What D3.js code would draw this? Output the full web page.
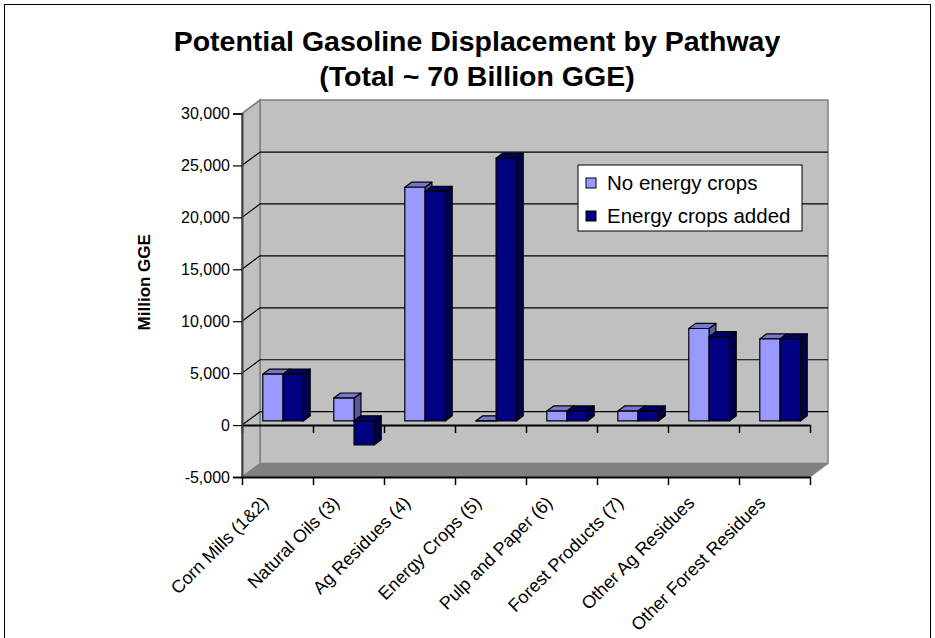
<!DOCTYPE html>
<html>
<head>
<meta charset="utf-8">
<script src="https://cdn.jsdelivr.net/npm/d3@7"></script>
<style>
  body { margin: 0; background: #fff; }
  svg { display: block; }
  text { font-family: "Liberation Sans", Arial, sans-serif; fill: #000; }
</style>
</head>
<body>
<svg id="chart" width="935" height="638"></svg>
<script>
// Pathways along the category axis
const categories = [
  "Corn Mills (1&2)", "Natural Oils (3)", "Ag Residues (4)", "Energy Crops (5)",
  "Pulp and Paper (6)", "Forest Products (7)", "Other Ag Residues", "Other Forest Residues"
];
const seriesNames = ["No energy crops", "Energy crops added"];

// Million GGE per pathway
const noEnergyCrops    = [4500, 2200, 22500, 0,     950, 950, 8900, 7900];
const energyCropsAdded = [4500, -2300, 22100, 25300, 950, 950, 8100, 7900];

const yTickValues = [-5000, 0, 5000, 10000, 15000, 20000, 25000, 30000];
const titleLines = ["Potential Gasoline Displacement by Pathway", "(Total ~ 70 Billion GGE)"];
const yAxisTitle = "Million GGE";

const seriesValues = [noEnergyCrops, energyCropsAdded];
const colors = {
  "No energy crops":    { front: "#9999ff", top: "#7676cc", side: "#5858a0" },
  "Energy crops added": { front: "#000080", top: "#000066", side: "#00004d" }
};

const svg = d3.select("#chart");

// outer frame
svg.append("rect").attr("x", 4.5).attr("y", 4.5).attr("width", 926).attr("height", 640)
  .attr("fill", "#fff").attr("stroke", "#000").attr("stroke-width", 1);

// front plane of the 3-D box and its depth vector
const plot = { left: 242, right: 810, top: 113.5, bottom: 477 };
const DX = 18, DY = -13.4;

const x0 = d3.scaleBand().domain(categories).range([plot.left, plot.right]).padding(0);
const xEdge = d3.scaleLinear().domain([0, categories.length]).range([plot.left, plot.right]);
const y = d3.scaleLinear().domain([-5000, 30000]).range([plot.bottom, plot.top]);

const gapRatio = 1.5;
const barW = x0.bandwidth() / (2 + gapRatio);
const x1 = d3.scaleBand().domain(seriesNames)
  .range([barW * gapRatio / 2, barW * gapRatio / 2 + 2 * barW]).padding(0);
const f0 = 0.31, f1 = 0.69;   // depth slot of the columns

const P = (x, v, t) => [x + t * DX, y(v) + t * DY];
const poly = pts => pts.map(p => p.join(",")).join(" ");

const [vMin, vMax] = y.domain();

// walls and floor
svg.append("polygon")
  .attr("points", poly([P(plot.left, vMax, 1), P(plot.right, vMax, 1), P(plot.right, vMin, 1), P(plot.left, vMin, 1)]))
  .attr("fill", "#c0c0c0").attr("stroke", "#808080").attr("stroke-width", 1.5);
svg.append("polygon")
  .attr("points", poly([P(plot.left, vMax, 0), P(plot.left, vMax, 1), P(plot.left, vMin, 1), P(plot.left, vMin, 0)]))
  .attr("fill", "#c0c0c0").attr("stroke", "#808080").attr("stroke-width", 1.5);
svg.append("polygon")
  .attr("points", poly([P(plot.left, vMin, 0), P(plot.right, vMin, 0), P(plot.right, vMin, 1), P(plot.left, vMin, 1)]))
  .attr("fill", "#808080").attr("stroke", "#808080").attr("stroke-width", 1);

// gridlines on the back and side walls
const gridVals = yTickValues.filter(v => v > vMin && v < vMax);
const grid = svg.append("g").attr("stroke", "#000").attr("stroke-width", 1.2).attr("fill", "none");
gridVals.forEach(v => {
  grid.append("polyline").attr("points", poly([P(plot.left, v, 0), P(plot.left, v, 1), P(plot.right, v, 1)]));
});
svg.append("line")
  .attr("x1", P(plot.left, vMax, 0)[0]).attr("y1", P(plot.left, vMax, 0)[1])
  .attr("x2", P(plot.left, vMax, 1)[0]).attr("y2", P(plot.left, vMax, 1)[1])
  .attr("stroke", "#808080").attr("stroke-width", 1.5);

// category axis at zero with boundary ticks
const zeroAxis = svg.append("g").attr("transform", `translate(0,${y(0)})`)
  .call(d3.axisBottom(xEdge).tickValues(d3.range(categories.length + 1)).tickFormat("").tickSize(8).tickSizeOuter(0));
zeroAxis.select(".domain").attr("stroke", "#000").attr("stroke-width", 2);
zeroAxis.selectAll(".tick line").attr("stroke", "#000").attr("stroke-width", 1.5);

// columns
const bars = svg.append("g");
categories.forEach((cat, i) => {
  seriesNames.forEach((s, j) => {
    const v = seriesValues[j][i];
    const xl = x0(cat) + x1(s), xr = xl + barW;
    const vt = Math.max(v, 0), vb = Math.min(v, 0);
    const c = colors[s];
    const g = bars.append("g").attr("stroke", "#000").attr("stroke-width", 1.2).attr("stroke-linejoin", "round");
    g.append("polygon").attr("fill", c.side)
      .attr("points", poly([P(xr, vt, f0), P(xr, vt, f1), P(xr, vb, f1), P(xr, vb, f0)]));
    g.append("polygon").attr("fill", c.top)
      .attr("points", poly([P(xl, vt, f0), P(xr, vt, f0), P(xr, vt, f1), P(xl, vt, f1)]));
    g.append("polygon").attr("fill", c.front)
      .attr("points", poly([P(xl, vt, f0), P(xr, vt, f0), P(xr, vb, f0), P(xl, vb, f0)]));
  });
});

// value axis on the front left edge
const fmt = d3.format(",");
const yAxis = svg.append("g").attr("transform", `translate(${plot.left},0)`)
  .call(d3.axisLeft(y).tickValues(yTickValues).tickFormat(d => fmt(d).replace("\u2212", "-")).tickSize(9).tickPadding(3));
yAxis.select(".domain").attr("stroke", "#404040").attr("stroke-width", 2);
yAxis.selectAll(".tick line").attr("stroke", "#000").attr("stroke-width", 1.2);
yAxis.selectAll(".tick text").attr("font-size", 16).attr("font-family", "Liberation Sans, Arial, sans-serif").attr("fill", "#000");

// floor front edge with category ticks and labels
const floorAxis = svg.append("g").attr("transform", `translate(0,${plot.bottom})`)
  .call(d3.axisBottom(xEdge).tickValues(d3.range(categories.length + 1)).tickFormat("").tickSize(8).tickSizeOuter(0));
floorAxis.select(".domain").attr("stroke", "#000").attr("stroke-width", 2);
floorAxis.selectAll(".tick line").attr("stroke", "#000").attr("stroke-width", 1.5);

svg.append("g").selectAll("text").data(categories).join("text")
  .attr("transform", d => `translate(${x0(d) + x0.bandwidth() / 2 - 8},${plot.bottom + 27}) rotate(-45)`)
  .attr("text-anchor", "end")
  .attr("font-size", 18)
  .text(d => d);

// axis title
svg.append("text")
  .attr("transform", `translate(150,${(plot.top + plot.bottom) / 2 - 13}) rotate(-90)`)
  .attr("text-anchor", "middle").attr("font-size", 17).attr("font-weight", "bold")
  .text(yAxisTitle);

// chart title
svg.append("g").selectAll("text").data(titleLines).join("text")
  .attr("x", 477).attr("y", (d, i) => 51 + i * 35)
  .attr("text-anchor", "middle").attr("font-size", 28.5).attr("font-weight", "bold")
  .text(d => d);

// legend
const legend = svg.append("g").attr("transform", "translate(578,165)");
legend.append("rect").attr("width", 224).attr("height", 66)
  .attr("fill", "#fff").attr("stroke", "#000").attr("stroke-width", 1);
seriesNames.forEach((s, j) => {
  legend.append("rect").attr("x", 8).attr("y", 13 + j * 33).attr("width", 10).attr("height", 10)
    .attr("fill", colors[s].front).attr("stroke", "#000").attr("stroke-width", 1);
  legend.append("text").attr("x", 29).attr("y", 25 + j * 33).attr("font-size", 20.5).text(s);
});
</script>
</body>
</html>
